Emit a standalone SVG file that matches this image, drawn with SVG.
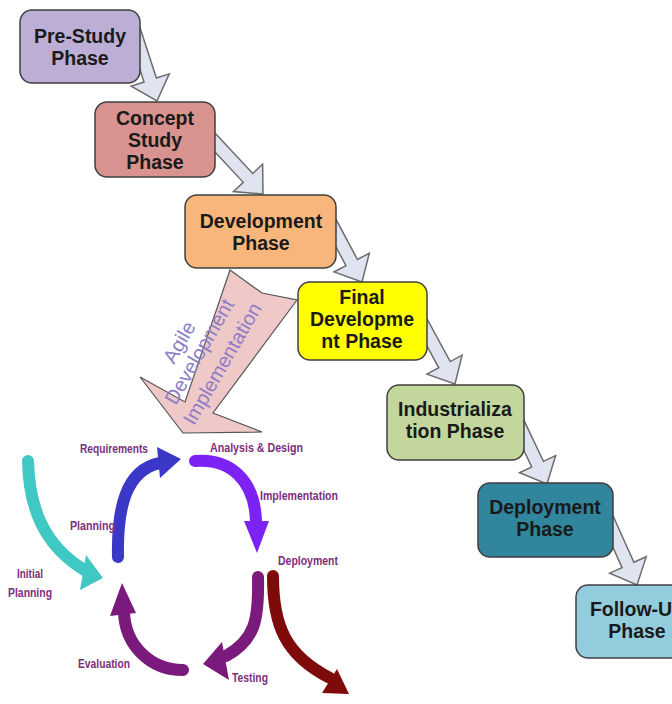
<svg xmlns="http://www.w3.org/2000/svg" xmlns:xlink="http://www.w3.org/1999/xlink" width="672" height="704" viewBox="0 0 672 704">
  <style>
    .box { stroke: #3f3f3f; stroke-width: 1.5; }
    .phase { font-family: "Liberation Sans", Arial, sans-serif; font-weight: bold; font-size: 19.5px; fill: #1a1a1a; text-anchor: middle; }
    .flow { fill: #dfe4f0; stroke: #6d6d6d; stroke-width: 1.5; stroke-linejoin: miter; }
    .agile { font-family: "Liberation Sans", Arial, sans-serif; font-size: 20px; fill: #8c7dc6; text-anchor: middle; }
    .cyc { fill: none; stroke-width: 12; stroke-linecap: round; }
    .lbl { font-family: "Liberation Sans", Arial, sans-serif; font-weight: bold; font-size: 12px; fill: #7d2e7d; }
  </style>
  <defs>
    <!-- hollow block arrow pointing along +x, tip at the origin -->
    <path id="flowArrow" class="flow" d="M-76,-6.5 H-22 V-20 L0,0 L-22,20 V6.5 H-76 Z"/>
  </defs>
  <rect width="672" height="704" fill="#ffffff"/>

  <g id="connectors">
    <use xlink:href="#flowArrow" transform="translate(157,101) rotate(72)"/>
    <use xlink:href="#flowArrow" transform="translate(263,194) rotate(47)"/>
    <use xlink:href="#flowArrow" transform="translate(362,282) rotate(62)"/>
    <use xlink:href="#flowArrow" transform="translate(455,384) rotate(61.5)"/>
    <use xlink:href="#flowArrow" transform="translate(547,484) rotate(64.6)"/>
    <use xlink:href="#flowArrow" transform="translate(637,585) rotate(65.8)"/>

    <!-- wide arrow branching from development into the agile cycle -->
    <g id="agile-arrow">
      <polygon points="230,270 262,293 297,300 213,413 262,432 183,433 140,377 185,402" fill="#efc8c8" stroke="#555555" stroke-width="1.2" stroke-linejoin="miter"/>
      <g transform="translate(200,352) rotate(-60)">
        <text class="agile" x="-2" y="-16">Agile</text>
        <text class="agile" x="0" y="6">Development</text>
        <text class="agile" x="1" y="32">Implementation</text>
      </g>
    </g>
  </g>

  <g id="pre-study">
    <rect class="box" x="20" y="10" width="120" height="73" rx="12" fill="#bdaed5"/>
    <text class="phase" x="80" y="43">Pre-Study</text>
    <text class="phase" x="80" y="65">Phase</text>
  </g>
  <g id="concept-study">
    <rect class="box" x="95" y="102" width="120" height="75" rx="12" fill="#d8928f"/>
    <text class="phase" x="155" y="125">Concept</text>
    <text class="phase" x="155" y="147">Study</text>
    <text class="phase" x="155" y="169">Phase</text>
  </g>
  <g id="development">
    <rect class="box" x="185" y="195" width="151" height="73" rx="12" fill="#f9b67c"/>
    <text class="phase" x="261" y="228">Development</text>
    <text class="phase" x="261" y="250">Phase</text>
  </g>
  <g id="final-development">
    <rect class="box" x="298" y="282" width="129" height="78" rx="12" fill="#ffff00"/>
    <text class="phase" x="362" y="304">Final</text>
    <text class="phase" x="362" y="326">Developme</text>
    <text class="phase" x="362" y="348">nt Phase</text>
  </g>
  <g id="industrialization">
    <rect class="box" x="387" y="385" width="137" height="75" rx="12" fill="#c3d69b"/>
    <text class="phase" x="455" y="416">Industrializa</text>
    <text class="phase" x="455" y="438">tion Phase</text>
  </g>
  <g id="deployment">
    <rect class="box" x="478" y="483" width="135" height="74" rx="12" fill="#31859c"/>
    <text class="phase" x="545" y="514">Deployment</text>
    <text class="phase" x="545" y="536">Phase</text>
  </g>
  <g id="follow-up">
    <rect class="box" x="576" y="585" width="130" height="73" rx="12" fill="#93cddd"/>
    <text class="phase" x="637" y="616">Follow-Up</text>
    <text class="phase" x="637" y="638">Phase</text>
  </g>

  <!-- agile iteration cycle -->
  <g id="agile-cycle">
    <g id="initial-planning-arrow">
      <path class="cyc" stroke="#40c8c4" d="M28,461 C29,505 42,545 86,571"/>
      <polygon points="103,578 86,555 80,590" fill="#40c8c4"/>
    </g>
    <g id="planning-arrow">
      <path class="cyc" stroke="#3b38c8" d="M118,557 C117,510 125,470 160,463"/>
      <polygon points="181,459 157,447 160,478" fill="#3b38c8"/>
    </g>
    <g id="implementation-arrow">
      <path class="cyc" stroke="#7d22f5" d="M195,461 C230,458 255,480 256,522"/>
      <polygon points="257,553 244,521 269,521" fill="#7d22f5"/>
    </g>
    <g id="testing-arrow">
      <path class="cyc" stroke="#7b1a7d" d="M258,577 C259,620 255,640 226,656"/>
      <polygon points="203,664 222,642 229,680" fill="#7b1a7d"/>
    </g>
    <g id="evaluation-arrow">
      <path class="cyc" stroke="#7b1a7d" d="M183,670 C150,670 125,645 124,612"/>
      <polygon points="122,583 110,616 136,613" fill="#7b1a7d"/>
    </g>
    <g id="deployment-arrow">
      <path class="cyc" stroke="#7f0a0a" d="M273,576 C273,625 285,655 330,678"/>
      <polygon points="349,694 337,669 322,693" fill="#7f0a0a"/>
    </g>

    <text class="lbl" x="80" y="453" textLength="68" lengthAdjust="spacingAndGlyphs">Requirements</text>
    <text class="lbl" x="210" y="452" textLength="93" lengthAdjust="spacingAndGlyphs">Analysis &amp; Design</text>
    <text class="lbl" x="260" y="500" textLength="78" lengthAdjust="spacingAndGlyphs">Implementation</text>
    <text class="lbl" x="70" y="530" textLength="45" lengthAdjust="spacingAndGlyphs">Planning</text>
    <text class="lbl" x="278" y="565" textLength="60" lengthAdjust="spacingAndGlyphs">Deployment</text>
    <text class="lbl" x="17" y="578" textLength="26" lengthAdjust="spacingAndGlyphs">Initial</text>
    <text class="lbl" x="8" y="597" textLength="44" lengthAdjust="spacingAndGlyphs">Planning</text>
    <text class="lbl" x="78" y="668" textLength="52" lengthAdjust="spacingAndGlyphs">Evaluation</text>
    <text class="lbl" x="232" y="682" textLength="36" lengthAdjust="spacingAndGlyphs">Testing</text>
  </g>
</svg>
